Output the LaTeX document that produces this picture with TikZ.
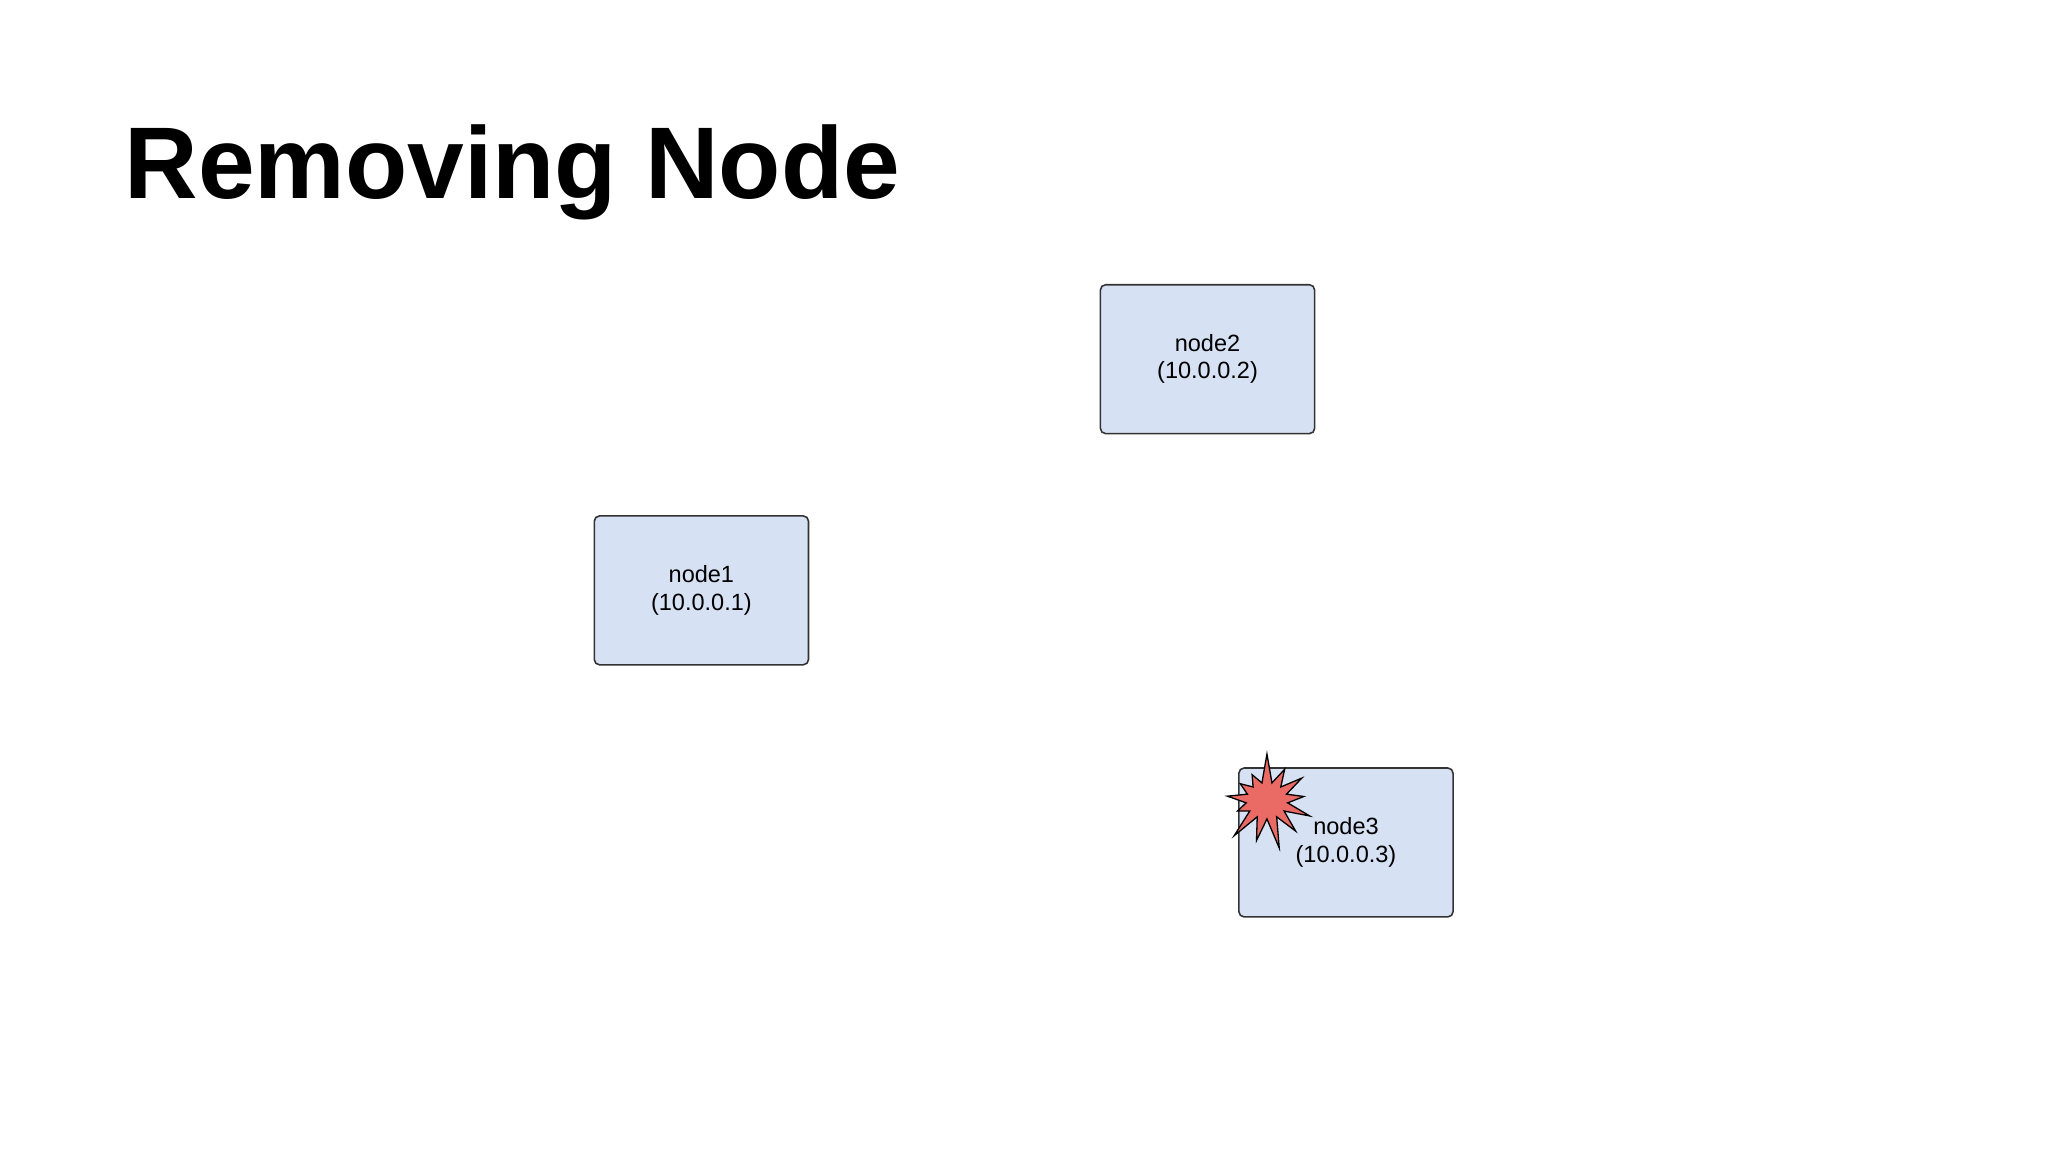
\documentclass[tikz,border=0pt]{standalone}
\usepackage{fontspec}
\setmainfont{Liberation Sans}
\usetikzlibrary{shapes.symbols}
\begin{document}
\begin{tikzpicture}[x=0.5pt,y=-0.5pt,
  box/.style={draw=black!80,fill=boxblue,rounded corners=2pt,line width=0.6pt,
    minimum width=82pt,minimum height=57pt,align=center,font=\fontsize{9}{10.5}\selectfont,inner sep=0pt},
  boom/.style={starburst,starburst points=13,starburst point height=12pt,draw=black,fill=boomred,
    line width=0.5pt,minimum width=40pt,minimum height=38pt,random starburst=7}]
\definecolor{boxblue}{HTML}{D6E1F3}
\definecolor{boomred}{HTML}{EA6B66}
\useasboundingbox[fill=white] (0,0) rectangle (1568,882);
\node[anchor=base west,inner sep=0pt,font=\bfseries\fontsize{39}{44}\selectfont] (title) at (95,152) {Removing Node};
\node[box] (n2) at (924.5,275) {node2\\(10.0.0.2)};
\node[box] (n1) at (537,452) {node1\\(10.0.0.1)};
\node[box] (n3) at (1030.5,645) {\hspace*{0pt}node3\\(10.0.0.3)};
\node[boom] (b) at (970,613) {};
\end{tikzpicture}
\end{document}
